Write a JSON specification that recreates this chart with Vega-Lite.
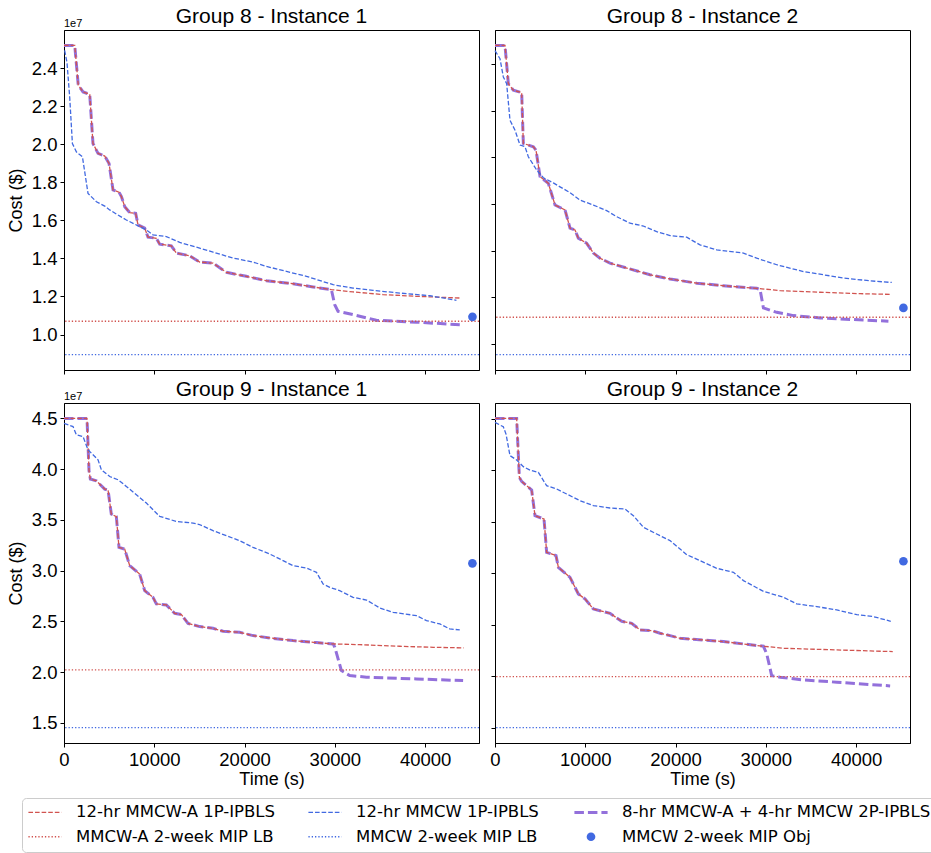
{
"$schema": "https://vega.github.io/schema/vega-lite/v6.json",
"padding": {"left": 6, "top": 5, "right": 0, "bottom": 0},
"background": "white",
"datasets": {"d": [
{"panel":"a","series":"A","time":0,"cost":2.519e7},
{"panel":"a","series":"A","time":1190,"cost":2.519e7},
{"panel":"a","series":"A","time":1580,"cost":2.31e7},
{"panel":"a","series":"A","time":2110,"cost":2.275e7},
{"panel":"a","series":"A","time":2850,"cost":2.262e7},
{"panel":"a","series":"A","time":3210,"cost":2.004e7},
{"panel":"a","series":"A","time":3770,"cost":1.952e7},
{"panel":"a","series":"A","time":4510,"cost":1.938e7},
{"panel":"a","series":"A","time":4990,"cost":1.899e7},
{"panel":"a","series":"A","time":5430,"cost":1.76e7},
{"panel":"a","series":"A","time":6100,"cost":1.748e7},
{"panel":"a","series":"A","time":6360,"cost":1.725e7},
{"panel":"a","series":"A","time":6730,"cost":1.672e7},
{"panel":"a","series":"A","time":7280,"cost":1.641e7},
{"panel":"a","series":"A","time":7940,"cost":1.637e7},
{"panel":"a","series":"A","time":8200,"cost":1.576e7},
{"panel":"a","series":"A","time":8940,"cost":1.559e7},
{"panel":"a","series":"A","time":9310,"cost":1.512e7},
{"panel":"a","series":"A","time":10230,"cost":1.506e7},
{"panel":"a","series":"A","time":10600,"cost":1.475e7},
{"panel":"a","series":"A","time":11890,"cost":1.466e7},
{"panel":"a","series":"A","time":12450,"cost":1.428e7},
{"panel":"a","series":"A","time":13920,"cost":1.414e7},
{"panel":"a","series":"A","time":15030,"cost":1.381e7},
{"panel":"a","series":"A","time":16510,"cost":1.375e7},
{"panel":"a","series":"A","time":17990,"cost":1.327e7},
{"panel":"a","series":"A","time":20200,"cost":1.306e7},
{"panel":"a","series":"A","time":22420,"cost":1.283e7},
{"panel":"a","series":"A","time":25370,"cost":1.267e7},
{"panel":"a","series":"A","time":27590,"cost":1.25e7},
{"panel":"a","series":"A","time":29620,"cost":1.236e7},
{"panel":"a","series":"A","time":32020,"cost":1.224e7},
{"panel":"a","series":"A","time":35350,"cost":1.21e7},
{"panel":"a","series":"A","time":39040,"cost":1.201e7},
{"panel":"a","series":"A","time":43840,"cost":1.192e7},
{"panel":"a","series":"C","time":0,"cost":2.519e7},
{"panel":"a","series":"C","time":1190,"cost":2.519e7},
{"panel":"a","series":"C","time":1580,"cost":2.31e7},
{"panel":"a","series":"C","time":2110,"cost":2.275e7},
{"panel":"a","series":"C","time":2850,"cost":2.262e7},
{"panel":"a","series":"C","time":3210,"cost":2.004e7},
{"panel":"a","series":"C","time":3770,"cost":1.952e7},
{"panel":"a","series":"C","time":4510,"cost":1.938e7},
{"panel":"a","series":"C","time":4990,"cost":1.899e7},
{"panel":"a","series":"C","time":5430,"cost":1.76e7},
{"panel":"a","series":"C","time":6100,"cost":1.748e7},
{"panel":"a","series":"C","time":6360,"cost":1.725e7},
{"panel":"a","series":"C","time":6730,"cost":1.672e7},
{"panel":"a","series":"C","time":7280,"cost":1.641e7},
{"panel":"a","series":"C","time":7940,"cost":1.637e7},
{"panel":"a","series":"C","time":8200,"cost":1.576e7},
{"panel":"a","series":"C","time":8940,"cost":1.559e7},
{"panel":"a","series":"C","time":9310,"cost":1.512e7},
{"panel":"a","series":"C","time":10230,"cost":1.506e7},
{"panel":"a","series":"C","time":10600,"cost":1.475e7},
{"panel":"a","series":"C","time":11890,"cost":1.466e7},
{"panel":"a","series":"C","time":12450,"cost":1.428e7},
{"panel":"a","series":"C","time":13920,"cost":1.414e7},
{"panel":"a","series":"C","time":15030,"cost":1.381e7},
{"panel":"a","series":"C","time":16510,"cost":1.375e7},
{"panel":"a","series":"C","time":17990,"cost":1.327e7},
{"panel":"a","series":"C","time":20200,"cost":1.306e7},
{"panel":"a","series":"C","time":22420,"cost":1.283e7},
{"panel":"a","series":"C","time":25370,"cost":1.267e7},
{"panel":"a","series":"C","time":27590,"cost":1.25e7},
{"panel":"a","series":"C","time":29620,"cost":1.236e7},
{"panel":"a","series":"C","time":29990,"cost":1.157e7},
{"panel":"a","series":"C","time":30360,"cost":1.122e7},
{"panel":"a","series":"C","time":32020,"cost":1.105e7},
{"panel":"a","series":"C","time":34600,"cost":1.075e7},
{"panel":"a","series":"C","time":39040,"cost":1.065e7},
{"panel":"a","series":"C","time":43840,"cost":1.052e7},
{"panel":"a","series":"B","time":70,"cost":2.493e7},
{"panel":"a","series":"B","time":330,"cost":2.43e7},
{"panel":"a","series":"B","time":630,"cost":2.248e7},
{"panel":"a","series":"B","time":930,"cost":2.004e7},
{"panel":"a","series":"B","time":1370,"cost":1.96e7},
{"panel":"a","series":"B","time":2040,"cost":1.934e7},
{"panel":"a","series":"B","time":2660,"cost":1.742e7},
{"panel":"a","series":"B","time":3590,"cost":1.698e7},
{"panel":"a","series":"B","time":4510,"cost":1.675e7},
{"panel":"a","series":"B","time":5060,"cost":1.655e7},
{"panel":"a","series":"B","time":5980,"cost":1.628e7},
{"panel":"a","series":"B","time":6910,"cost":1.602e7},
{"panel":"a","series":"B","time":8390,"cost":1.567e7},
{"panel":"a","series":"B","time":9120,"cost":1.55e7},
{"panel":"a","series":"B","time":9860,"cost":1.524e7},
{"panel":"a","series":"B","time":11340,"cost":1.515e7},
{"panel":"a","series":"B","time":12820,"cost":1.484e7},
{"panel":"a","series":"B","time":15030,"cost":1.454e7},
{"panel":"a","series":"B","time":16510,"cost":1.433e7},
{"panel":"a","series":"B","time":18730,"cost":1.402e7},
{"panel":"a","series":"B","time":20940,"cost":1.381e7},
{"panel":"a","series":"B","time":22420,"cost":1.358e7},
{"panel":"a","series":"B","time":24640,"cost":1.332e7},
{"panel":"a","series":"B","time":26850,"cost":1.306e7},
{"panel":"a","series":"B","time":29810,"cost":1.262e7},
{"panel":"a","series":"B","time":32020,"cost":1.244e7},
{"panel":"a","series":"B","time":34240,"cost":1.232e7},
{"panel":"a","series":"B","time":37190,"cost":1.218e7},
{"panel":"a","series":"B","time":40520,"cost":1.204e7},
{"panel":"a","series":"B","time":42360,"cost":1.189e7},
{"panel":"a","series":"B","time":43470,"cost":1.18e7},
{"panel":"a","series":"LA","cost":1.07e7},
{"panel":"a","series":"LB","cost":0.895e7},
{"panel":"a","series":"O","time":45245,"cost":1.093e7},
{"panel":"b","series":"A","time":0,"cost":2.279e7},
{"panel":"b","series":"A","time":1108,"cost":2.279e7},
{"panel":"b","series":"A","time":1477,"cost":2.115e7},
{"panel":"b","series":"A","time":2031,"cost":2.087e7},
{"panel":"b","series":"A","time":2955,"cost":2.077e7},
{"panel":"b","series":"A","time":3139,"cost":1.859e7},
{"panel":"b","series":"A","time":4247,"cost":1.845e7},
{"panel":"b","series":"A","time":4543,"cost":1.83e7},
{"panel":"b","series":"A","time":4986,"cost":1.717e7},
{"panel":"b","series":"A","time":5910,"cost":1.688e7},
{"panel":"b","series":"A","time":6648,"cost":1.595e7},
{"panel":"b","series":"A","time":7756,"cost":1.574e7},
{"panel":"b","series":"A","time":8310,"cost":1.496e7},
{"panel":"b","series":"A","time":8860,"cost":1.488e7},
{"panel":"b","series":"A","time":9230,"cost":1.453e7},
{"panel":"b","series":"A","time":10160,"cost":1.431e7},
{"panel":"b","series":"A","time":10900,"cost":1.389e7},
{"panel":"b","series":"A","time":11630,"cost":1.367e7},
{"panel":"b","series":"A","time":12740,"cost":1.346e7},
{"panel":"b","series":"A","time":14590,"cost":1.325e7},
{"panel":"b","series":"A","time":17170,"cost":1.296e7},
{"panel":"b","series":"A","time":19390,"cost":1.278e7},
{"panel":"b","series":"A","time":22350,"cost":1.26e7},
{"panel":"b","series":"A","time":25300,"cost":1.249e7},
{"panel":"b","series":"A","time":28990,"cost":1.238e7},
{"panel":"b","series":"A","time":31580,"cost":1.228e7},
{"panel":"b","series":"A","time":36010,"cost":1.221e7},
{"panel":"b","series":"A","time":40440,"cost":1.215e7},
{"panel":"b","series":"A","time":43840,"cost":1.212e7},
{"panel":"b","series":"C","time":0,"cost":2.279e7},
{"panel":"b","series":"C","time":1108,"cost":2.279e7},
{"panel":"b","series":"C","time":1477,"cost":2.115e7},
{"panel":"b","series":"C","time":2031,"cost":2.087e7},
{"panel":"b","series":"C","time":2955,"cost":2.077e7},
{"panel":"b","series":"C","time":3139,"cost":1.859e7},
{"panel":"b","series":"C","time":4247,"cost":1.845e7},
{"panel":"b","series":"C","time":4543,"cost":1.83e7},
{"panel":"b","series":"C","time":4986,"cost":1.717e7},
{"panel":"b","series":"C","time":5910,"cost":1.688e7},
{"panel":"b","series":"C","time":6648,"cost":1.595e7},
{"panel":"b","series":"C","time":7756,"cost":1.574e7},
{"panel":"b","series":"C","time":8310,"cost":1.496e7},
{"panel":"b","series":"C","time":8860,"cost":1.488e7},
{"panel":"b","series":"C","time":9230,"cost":1.453e7},
{"panel":"b","series":"C","time":10160,"cost":1.431e7},
{"panel":"b","series":"C","time":10900,"cost":1.389e7},
{"panel":"b","series":"C","time":11630,"cost":1.367e7},
{"panel":"b","series":"C","time":12740,"cost":1.346e7},
{"panel":"b","series":"C","time":14590,"cost":1.325e7},
{"panel":"b","series":"C","time":17170,"cost":1.296e7},
{"panel":"b","series":"C","time":19390,"cost":1.278e7},
{"panel":"b","series":"C","time":22350,"cost":1.26e7},
{"panel":"b","series":"C","time":25300,"cost":1.249e7},
{"panel":"b","series":"C","time":28990,"cost":1.238e7},
{"panel":"b","series":"C","time":29360,"cost":1.233e7},
{"panel":"b","series":"C","time":29730,"cost":1.154e7},
{"panel":"b","series":"C","time":31210,"cost":1.135e7},
{"panel":"b","series":"C","time":33060,"cost":1.121e7},
{"panel":"b","series":"C","time":36010,"cost":1.111e7},
{"panel":"b","series":"C","time":39700,"cost":1.104e7},
{"panel":"b","series":"C","time":43580,"cost":1.097e7},
{"panel":"b","series":"B","time":0,"cost":2.257e7},
{"panel":"b","series":"B","time":554,"cost":2.222e7},
{"panel":"b","series":"B","time":924,"cost":2.144e7},
{"panel":"b","series":"B","time":1293,"cost":2.115e7},
{"panel":"b","series":"B","time":1662,"cost":1.958e7},
{"panel":"b","series":"B","time":2216,"cost":1.916e7},
{"panel":"b","series":"B","time":2770,"cost":1.852e7},
{"panel":"b","series":"B","time":3324,"cost":1.845e7},
{"panel":"b","series":"B","time":3693,"cost":1.802e7},
{"panel":"b","series":"B","time":4617,"cost":1.745e7},
{"panel":"b","series":"B","time":5356,"cost":1.712e7},
{"panel":"b","series":"B","time":6464,"cost":1.69e7},
{"panel":"b","series":"B","time":7200,"cost":1.673e7},
{"panel":"b","series":"B","time":8310,"cost":1.648e7},
{"panel":"b","series":"B","time":9420,"cost":1.616e7},
{"panel":"b","series":"B","time":10900,"cost":1.595e7},
{"panel":"b","series":"B","time":12370,"cost":1.571e7},
{"panel":"b","series":"B","time":13480,"cost":1.545e7},
{"panel":"b","series":"B","time":14960,"cost":1.517e7},
{"panel":"b","series":"B","time":16440,"cost":1.505e7},
{"panel":"b","series":"B","time":17910,"cost":1.481e7},
{"panel":"b","series":"B","time":19390,"cost":1.464e7},
{"panel":"b","series":"B","time":21240,"cost":1.457e7},
{"panel":"b","series":"B","time":22710,"cost":1.424e7},
{"panel":"b","series":"B","time":24560,"cost":1.403e7},
{"panel":"b","series":"B","time":27520,"cost":1.389e7},
{"panel":"b","series":"B","time":28990,"cost":1.367e7},
{"panel":"b","series":"B","time":31210,"cost":1.339e7},
{"panel":"b","series":"B","time":34160,"cost":1.31e7},
{"panel":"b","series":"B","time":36380,"cost":1.296e7},
{"panel":"b","series":"B","time":38600,"cost":1.282e7},
{"panel":"b","series":"B","time":41550,"cost":1.27e7},
{"panel":"b","series":"B","time":43950,"cost":1.263e7},
{"panel":"b","series":"LA","cost":1.114e7},
{"panel":"b","series":"LB","cost":0.954e7},
{"panel":"b","series":"O","time":45240,"cost":1.154e7},
{"panel":"c","series":"A","time":0,"cost":4.5e7},
{"panel":"c","series":"A","time":2550,"cost":4.5e7},
{"panel":"c","series":"A","time":2770,"cost":3.985e7},
{"panel":"c","series":"A","time":2920,"cost":3.903e7},
{"panel":"c","series":"A","time":3580,"cost":3.886e7},
{"panel":"c","series":"A","time":4510,"cost":3.804e7},
{"panel":"c","series":"A","time":4880,"cost":3.794e7},
{"panel":"c","series":"A","time":5240,"cost":3.558e7},
{"panel":"c","series":"A","time":5800,"cost":3.532e7},
{"panel":"c","series":"A","time":6090,"cost":3.23e7},
{"panel":"c","series":"A","time":6720,"cost":3.213e7},
{"panel":"c","series":"A","time":7280,"cost":3.049e7},
{"panel":"c","series":"A","time":8380,"cost":2.967e7},
{"panel":"c","series":"A","time":8940,"cost":2.803e7},
{"panel":"c","series":"A","time":9860,"cost":2.737e7},
{"panel":"c","series":"A","time":10230,"cost":2.672e7},
{"panel":"c","series":"A","time":11340,"cost":2.662e7},
{"panel":"c","series":"A","time":12260,"cost":2.58e7},
{"panel":"c","series":"A","time":13000,"cost":2.567e7},
{"panel":"c","series":"A","time":13740,"cost":2.481e7},
{"panel":"c","series":"A","time":15030,"cost":2.449e7},
{"panel":"c","series":"A","time":16510,"cost":2.432e7},
{"panel":"c","series":"A","time":17620,"cost":2.403e7},
{"panel":"c","series":"A","time":19460,"cost":2.393e7},
{"panel":"c","series":"A","time":20940,"cost":2.36e7},
{"panel":"c","series":"A","time":22790,"cost":2.337e7},
{"panel":"c","series":"A","time":25370,"cost":2.311e7},
{"panel":"c","series":"A","time":27960,"cost":2.291e7},
{"panel":"c","series":"A","time":29810,"cost":2.278e7},
{"panel":"c","series":"A","time":32760,"cost":2.271e7},
{"panel":"c","series":"A","time":37190,"cost":2.255e7},
{"panel":"c","series":"A","time":40890,"cost":2.245e7},
{"panel":"c","series":"A","time":44280,"cost":2.239e7},
{"panel":"c","series":"C","time":0,"cost":4.5e7},
{"panel":"c","series":"C","time":2550,"cost":4.5e7},
{"panel":"c","series":"C","time":2770,"cost":3.985e7},
{"panel":"c","series":"C","time":2920,"cost":3.903e7},
{"panel":"c","series":"C","time":3580,"cost":3.886e7},
{"panel":"c","series":"C","time":4510,"cost":3.804e7},
{"panel":"c","series":"C","time":4880,"cost":3.794e7},
{"panel":"c","series":"C","time":5240,"cost":3.558e7},
{"panel":"c","series":"C","time":5800,"cost":3.532e7},
{"panel":"c","series":"C","time":6090,"cost":3.23e7},
{"panel":"c","series":"C","time":6720,"cost":3.213e7},
{"panel":"c","series":"C","time":7280,"cost":3.049e7},
{"panel":"c","series":"C","time":8380,"cost":2.967e7},
{"panel":"c","series":"C","time":8940,"cost":2.803e7},
{"panel":"c","series":"C","time":9860,"cost":2.737e7},
{"panel":"c","series":"C","time":10230,"cost":2.672e7},
{"panel":"c","series":"C","time":11340,"cost":2.662e7},
{"panel":"c","series":"C","time":12260,"cost":2.58e7},
{"panel":"c","series":"C","time":13000,"cost":2.567e7},
{"panel":"c","series":"C","time":13740,"cost":2.481e7},
{"panel":"c","series":"C","time":15030,"cost":2.449e7},
{"panel":"c","series":"C","time":16510,"cost":2.432e7},
{"panel":"c","series":"C","time":17620,"cost":2.403e7},
{"panel":"c","series":"C","time":19460,"cost":2.393e7},
{"panel":"c","series":"C","time":20940,"cost":2.36e7},
{"panel":"c","series":"C","time":22790,"cost":2.337e7},
{"panel":"c","series":"C","time":25370,"cost":2.311e7},
{"panel":"c","series":"C","time":27960,"cost":2.291e7},
{"panel":"c","series":"C","time":29810,"cost":2.278e7},
{"panel":"c","series":"C","time":30000,"cost":2.245e7},
{"panel":"c","series":"C","time":30730,"cost":2.015e7},
{"panel":"c","series":"C","time":31650,"cost":1.966e7},
{"panel":"c","series":"C","time":33500,"cost":1.95e7},
{"panel":"c","series":"C","time":39040,"cost":1.933e7},
{"panel":"c","series":"C","time":44210,"cost":1.917e7},
{"panel":"c","series":"B","time":0,"cost":4.451e7},
{"panel":"c","series":"B","time":1000,"cost":4.42e7},
{"panel":"c","series":"B","time":1370,"cost":4.339e7},
{"panel":"c","series":"B","time":2106,"cost":4.322e7},
{"panel":"c","series":"B","time":2660,"cost":4.191e7},
{"panel":"c","series":"B","time":3216,"cost":4.142e7},
{"panel":"c","series":"B","time":3770,"cost":4.092e7},
{"panel":"c","series":"B","time":4140,"cost":3.994e7},
{"panel":"c","series":"B","time":5063,"cost":3.928e7},
{"panel":"c","series":"B","time":5987,"cost":3.896e7},
{"panel":"c","series":"B","time":6910,"cost":3.83e7},
{"panel":"c","series":"B","time":8018,"cost":3.748e7},
{"panel":"c","series":"B","time":9126,"cost":3.666e7},
{"panel":"c","series":"B","time":9865,"cost":3.6e7},
{"panel":"c","series":"B","time":10604,"cost":3.535e7},
{"panel":"c","series":"B","time":12450,"cost":3.485e7},
{"panel":"c","series":"B","time":14297,"cost":3.469e7},
{"panel":"c","series":"B","time":15000,"cost":3.455e7},
{"panel":"c","series":"B","time":16510,"cost":3.394e7},
{"panel":"c","series":"B","time":17990,"cost":3.345e7},
{"panel":"c","series":"B","time":19460,"cost":3.295e7},
{"panel":"c","series":"B","time":20940,"cost":3.23e7},
{"panel":"c","series":"B","time":22790,"cost":3.164e7},
{"panel":"c","series":"B","time":24270,"cost":3.099e7},
{"panel":"c","series":"B","time":25370,"cost":3.049e7},
{"panel":"c","series":"B","time":26850,"cost":3.026e7},
{"panel":"c","series":"B","time":27960,"cost":2.984e7},
{"panel":"c","series":"B","time":28700,"cost":2.869e7},
{"panel":"c","series":"B","time":29440,"cost":2.836e7},
{"panel":"c","series":"B","time":30540,"cost":2.803e7},
{"panel":"c","series":"B","time":32020,"cost":2.737e7},
{"panel":"c","series":"B","time":33500,"cost":2.711e7},
{"panel":"c","series":"B","time":34980,"cost":2.632e7},
{"panel":"c","series":"B","time":36450,"cost":2.59e7},
{"panel":"c","series":"B","time":39040,"cost":2.557e7},
{"panel":"c","series":"B","time":40150,"cost":2.508e7},
{"panel":"c","series":"B","time":41630,"cost":2.475e7},
{"panel":"c","series":"B","time":42730,"cost":2.426e7},
{"panel":"c","series":"B","time":43840,"cost":2.416e7},
{"panel":"c","series":"LA","cost":2.022e7},
{"panel":"c","series":"LB","cost":1.454e7},
{"panel":"c","series":"O","time":45240,"cost":3.072e7},
{"panel":"d","series":"A","time":0,"cost":4.506e7},
{"panel":"d","series":"A","time":2400,"cost":4.506e7},
{"panel":"d","series":"A","time":2700,"cost":3.933e7},
{"panel":"d","series":"A","time":2950,"cost":3.894e7},
{"panel":"d","series":"A","time":4060,"cost":3.81e7},
{"panel":"d","series":"A","time":4430,"cost":3.56e7},
{"panel":"d","series":"A","time":5430,"cost":3.528e7},
{"panel":"d","series":"A","time":5720,"cost":3.204e7},
{"panel":"d","series":"A","time":6760,"cost":3.172e7},
{"panel":"d","series":"A","time":7020,"cost":3.058e7},
{"panel":"d","series":"A","time":8310,"cost":2.961e7},
{"panel":"d","series":"A","time":9230,"cost":2.799e7},
{"panel":"d","series":"A","time":9970,"cost":2.751e7},
{"panel":"d","series":"A","time":10900,"cost":2.653e7},
{"panel":"d","series":"A","time":12740,"cost":2.611e7},
{"panel":"d","series":"A","time":14040,"cost":2.533e7},
{"panel":"d","series":"A","time":15140,"cost":2.514e7},
{"panel":"d","series":"A","time":16070,"cost":2.449e7},
{"panel":"d","series":"A","time":17360,"cost":2.443e7},
{"panel":"d","series":"A","time":18280,"cost":2.417e7},
{"panel":"d","series":"A","time":19390,"cost":2.394e7},
{"panel":"d","series":"A","time":20500,"cost":2.368e7},
{"panel":"d","series":"A","time":23080,"cost":2.352e7},
{"panel":"d","series":"A","time":25300,"cost":2.336e7},
{"panel":"d","series":"A","time":27520,"cost":2.313e7},
{"panel":"d","series":"A","time":29730,"cost":2.291e7},
{"panel":"d","series":"A","time":31950,"cost":2.271e7},
{"panel":"d","series":"A","time":34160,"cost":2.265e7},
{"panel":"d","series":"A","time":37860,"cost":2.255e7},
{"panel":"d","series":"A","time":41550,"cost":2.245e7},
{"panel":"d","series":"A","time":44060,"cost":2.239e7},
{"panel":"d","series":"C","time":0,"cost":4.506e7},
{"panel":"d","series":"C","time":2400,"cost":4.506e7},
{"panel":"d","series":"C","time":2700,"cost":3.933e7},
{"panel":"d","series":"C","time":2950,"cost":3.894e7},
{"panel":"d","series":"C","time":4060,"cost":3.81e7},
{"panel":"d","series":"C","time":4430,"cost":3.56e7},
{"panel":"d","series":"C","time":5430,"cost":3.528e7},
{"panel":"d","series":"C","time":5720,"cost":3.204e7},
{"panel":"d","series":"C","time":6760,"cost":3.172e7},
{"panel":"d","series":"C","time":7020,"cost":3.058e7},
{"panel":"d","series":"C","time":8310,"cost":2.961e7},
{"panel":"d","series":"C","time":9230,"cost":2.799e7},
{"panel":"d","series":"C","time":9970,"cost":2.751e7},
{"panel":"d","series":"C","time":10900,"cost":2.653e7},
{"panel":"d","series":"C","time":12740,"cost":2.611e7},
{"panel":"d","series":"C","time":14040,"cost":2.533e7},
{"panel":"d","series":"C","time":15140,"cost":2.514e7},
{"panel":"d","series":"C","time":16070,"cost":2.449e7},
{"panel":"d","series":"C","time":17360,"cost":2.443e7},
{"panel":"d","series":"C","time":18280,"cost":2.417e7},
{"panel":"d","series":"C","time":19390,"cost":2.394e7},
{"panel":"d","series":"C","time":20500,"cost":2.368e7},
{"panel":"d","series":"C","time":23080,"cost":2.352e7},
{"panel":"d","series":"C","time":25300,"cost":2.336e7},
{"panel":"d","series":"C","time":27520,"cost":2.313e7},
{"panel":"d","series":"C","time":29730,"cost":2.291e7},
{"panel":"d","series":"C","time":30100,"cost":2.216e7},
{"panel":"d","series":"C","time":30650,"cost":2.005e7},
{"panel":"d","series":"C","time":31580,"cost":1.989e7},
{"panel":"d","series":"C","time":34160,"cost":1.963e7},
{"panel":"d","series":"C","time":37860,"cost":1.941e7},
{"panel":"d","series":"C","time":43770,"cost":1.905e7},
{"panel":"d","series":"B","time":0,"cost":4.468e7},
{"panel":"d","series":"B","time":920,"cost":4.425e7},
{"panel":"d","series":"B","time":1220,"cost":4.354e7},
{"panel":"d","series":"B","time":1660,"cost":4.144e7},
{"panel":"d","series":"B","time":2400,"cost":4.102e7},
{"panel":"d","series":"B","time":3140,"cost":4.037e7},
{"panel":"d","series":"B","time":3880,"cost":4.004e7},
{"panel":"d","series":"B","time":4800,"cost":3.982e7},
{"panel":"d","series":"B","time":5720,"cost":3.852e7},
{"panel":"d","series":"B","time":6830,"cost":3.82e7},
{"panel":"d","series":"B","time":7940,"cost":3.771e7},
{"panel":"d","series":"B","time":9420,"cost":3.706e7},
{"panel":"d","series":"B","time":10900,"cost":3.658e7},
{"panel":"d","series":"B","time":12740,"cost":3.635e7},
{"panel":"d","series":"B","time":14400,"cost":3.625e7},
{"panel":"d","series":"B","time":15330,"cost":3.56e7},
{"panel":"d","series":"B","time":16440,"cost":3.447e7},
{"panel":"d","series":"B","time":17910,"cost":3.382e7},
{"panel":"d","series":"B","time":19390,"cost":3.318e7},
{"panel":"d","series":"B","time":20500,"cost":3.237e7},
{"panel":"d","series":"B","time":21240,"cost":3.181e7},
{"panel":"d","series":"B","time":22710,"cost":3.123e7},
{"panel":"d","series":"B","time":24560,"cost":3.049e7},
{"panel":"d","series":"B","time":26410,"cost":3.01e7},
{"panel":"d","series":"B","time":27520,"cost":2.929e7},
{"panel":"d","series":"B","time":29730,"cost":2.825e7},
{"panel":"d","series":"B","time":31950,"cost":2.767e7},
{"panel":"d","series":"B","time":33430,"cost":2.702e7},
{"panel":"d","series":"B","time":35640,"cost":2.676e7},
{"panel":"d","series":"B","time":37860,"cost":2.644e7},
{"panel":"d","series":"B","time":40080,"cost":2.598e7},
{"panel":"d","series":"B","time":41920,"cost":2.579e7},
{"panel":"d","series":"B","time":43840,"cost":2.533e7},
{"panel":"d","series":"LA","cost":1.996e7},
{"panel":"d","series":"LB","cost":1.5e7},
{"panel":"d","series":"O","time":45240,"cost":3.117e7}
]},
"data": {"name": "d"},
"config": {
  "font": "Liberation Sans",
  "view": {"stroke": "black", "strokeWidth": 1},
  "axis": {"domainColor": "black", "tickColor": "black", "tickSize": 4, "labelFont": "Liberation Sans", "labelFontSize": 18.5, "labelColor": "black", "titleFont": "Liberation Sans", "titleFontSize": 18, "titleFontWeight": "normal", "titleColor": "black", "grid": false, "labelPadding": 3, "labelFlush": false},
  "title": {"font": "Liberation Sans", "fontSize": 21, "fontWeight": "normal", "color": "black", "offset": 3, "frame": "group"}
},
"spacing": 3,
"resolve": {"scale": {"color": "shared"}, "legend": {"color": "shared"}},
"vconcat": [
{"spacing": 7, "resolve": {"scale": {"color": "shared"}, "legend": {"color": "shared"}}, "hconcat": [
 {"width": 415, "height": 340, "title": {"text": "Group 8 - Instance 1", "offset": -9},
  "transform": [{"filter": "datum.panel === 'a'"}],
  "encoding": {
   "y": {"field": "cost", "type": "quantitative", "scale": {"domain": [8138000, 26002000], "nice": false, "zero": false}, "axis": {"values": [1e7, 1.2e7, 1.4e7, 1.6e7, 1.8e7, 2e7, 2.2e7, 2.4e7], "labelExpr": "format(datum.value/1e7,'.1f')", "title": "Cost ($)", "titlePadding": 6}},
   "color": {"field": "series", "type": "nominal", "scale": {"domain": ["A", "B", "C", "LA", "LB", "O"], "range": ["#d1534f", "#4169e1", "#9370db", "#d1534f", "#4169e1", "#4169e1"]},
    "legend": {"orient": "none", "legendX": -42, "legendY": 768, "title": null, "columns": 3, "direction": "horizontal",
     "labelExpr": "datum.label === 'A' ? '12-hr MMCW-A 1P-IPBLS' : datum.label === 'B' ? '12-hr MMCW 1P-IPBLS' : datum.label === 'C' ? '8-hr MMCW-A + 4-hr MMCW 2P-IPBLS' : datum.label === 'LA' ? 'MMCW-A 2-week MIP LB' : datum.label === 'LB' ? 'MMCW 2-week MIP LB' : 'MMCW 2-week MIP Obj'",
     "labelFont": "DejaVu Sans", "labelFontSize": 16.5, "labelColor": "black", "labelLimit": 0,
     "symbolType": "stroke", "symbolSize": 1100, "symbolStrokeWidth": 1.3,
     "columnPadding": 29, "rowPadding": 7.5, "labelOffset": 14, "padding": 6,
     "strokeColor": "#cccccc", "cornerRadius": 4, "fillColor": "white",
     "encode": {
      "labels": {"update": {"x": {"value": 48}}},
      "symbols": {"update": {
       "x": {"value": 17},
       "shape": {"signal": "datum.value === 'O' ? 'circle' : 'stroke'"},
       "size": {"signal": "datum.value === 'O' ? 75 : 1100"},
       "strokeWidth": {"signal": "datum.value === 'C' ? 3 : (datum.value === 'O' ? 0 : 1.3)"},
       "strokeDash": {"signal": "datum.value === 'C' ? [9.5,4] : ((datum.value === 'A' || datum.value === 'B') ? [4.6,2] : (datum.value === 'O' ? [] : [1.3,2]))"},
       "fill": {"signal": "datum.value === 'O' ? '#4169e1' : 'transparent'"},
       "stroke": {"signal": "(datum.value === 'A' || datum.value === 'LA') ? '#d1534f' : (datum.value === 'C' ? '#9370db' : '#4169e1')"},
       "opacity": {"value": 1}, "fillOpacity": {"value": 1}, "strokeOpacity": {"value": 1}
     }}}}}
  },
  "layer": [
   {"transform": [{"filter": "datum.series === 'C'"}], "mark": {"type": "line", "strokeWidth": 3, "strokeDash": [9.5, 4]}, "encoding": {"x": {"field": "time", "type": "quantitative", "scale": {"domain": [0, 45970], "nice": false, "zero": false}, "axis": {"values": [0, 10000, 20000, 30000, 40000], "labels": false, "title": null}}}},
   {"transform": [{"filter": "datum.series === 'A'"}], "mark": {"type": "line", "strokeWidth": 1.3, "strokeDash": [4.6, 2]}, "encoding": {"x": {"field": "time", "type": "quantitative"}}},
   {"transform": [{"filter": "datum.series === 'B'"}], "mark": {"type": "line", "strokeWidth": 1.3, "strokeDash": [4.6, 2]}, "encoding": {"x": {"field": "time", "type": "quantitative"}}},
   {"transform": [{"filter": "datum.series === 'LA' || datum.series === 'LB'"}], "mark": {"type": "rule", "strokeWidth": 1.3, "strokeDash": [1.3, 2]}, "encoding": {}},
   {"transform": [{"filter": "datum.series === 'O'"}], "mark": {"type": "point", "filled": true, "size": 75, "opacity": 1}, "encoding": {"x": {"field": "time", "type": "quantitative"}}},
   {"transform": [{"filter": "datum.series === 'O'"}], "mark": {"type": "text", "text": "1e7", "align": "left", "baseline": "bottom", "dy": -1, "fontSize": 11}, "encoding": {"x": {"datum": 0}, "y": {"datum": 26002000}, "color": {"value": "black"}}}
  ]},
 {"width": 415, "height": 340, "title": "Group 8 - Instance 2",
  "transform": [{"filter": "datum.panel === 'b'"}],
  "encoding": {
   "y": {"field": "cost", "type": "quantitative", "scale": {"domain": [8878000, 23453000], "nice": false, "zero": false}, "axis": {"values": [1e7, 1.2e7, 1.4e7, 1.6e7, 1.8e7, 2e7, 2.2e7], "labels": false, "title": null}},
   "color": {"field": "series", "type": "nominal", "scale": {"domain": ["A", "B", "C", "LA", "LB", "O"], "range": ["#d1534f", "#4169e1", "#9370db", "#d1534f", "#4169e1", "#4169e1"]}}
  },
  "layer": [
   {"transform": [{"filter": "datum.series === 'C'"}], "mark": {"type": "line", "strokeWidth": 3, "strokeDash": [9.5, 4]}, "encoding": {"x": {"field": "time", "type": "quantitative", "scale": {"domain": [0, 45970], "nice": false, "zero": false}, "axis": {"values": [0, 10000, 20000, 30000, 40000], "labels": false, "title": null}}}},
   {"transform": [{"filter": "datum.series === 'A'"}], "mark": {"type": "line", "strokeWidth": 1.3, "strokeDash": [4.6, 2]}, "encoding": {"x": {"field": "time", "type": "quantitative"}}},
   {"transform": [{"filter": "datum.series === 'B'"}], "mark": {"type": "line", "strokeWidth": 1.3, "strokeDash": [4.6, 2]}, "encoding": {"x": {"field": "time", "type": "quantitative"}}},
   {"transform": [{"filter": "datum.series === 'LA' || datum.series === 'LB'"}], "mark": {"type": "rule", "strokeWidth": 1.3, "strokeDash": [1.3, 2]}, "encoding": {}},
   {"transform": [{"filter": "datum.series === 'O'"}], "mark": {"type": "point", "filled": true, "size": 75, "opacity": 1}, "encoding": {"x": {"field": "time", "type": "quantitative"}}}
  ]}
]},
{"spacing": 7, "resolve": {"scale": {"color": "shared"}, "legend": {"color": "shared"}}, "hconcat": [
 {"width": 415, "height": 340, "title": {"text": "Group 9 - Instance 1", "offset": -9},
  "transform": [{"filter": "datum.panel === 'c'"}],
  "encoding": {
   "y": {"field": "cost", "type": "quantitative", "scale": {"domain": [13017000, 46523000], "nice": false, "zero": false}, "axis": {"values": [1.5e7, 2e7, 2.5e7, 3e7, 3.5e7, 4e7, 4.5e7], "labelExpr": "format(datum.value/1e7,'.1f')", "title": "Cost ($)", "titlePadding": 6}},
   "color": {"field": "series", "type": "nominal", "scale": {"domain": ["A", "B", "C", "LA", "LB", "O"], "range": ["#d1534f", "#4169e1", "#9370db", "#d1534f", "#4169e1", "#4169e1"]}}
  },
  "layer": [
   {"transform": [{"filter": "datum.series === 'C'"}], "mark": {"type": "line", "strokeWidth": 3, "strokeDash": [9.5, 4]}, "encoding": {"x": {"field": "time", "type": "quantitative", "scale": {"domain": [0, 45970], "nice": false, "zero": false}, "axis": {"values": [0, 10000, 20000, 30000, 40000], "format": "d", "title": "Time (s)", "titlePadding": 2}}}},
   {"transform": [{"filter": "datum.series === 'A'"}], "mark": {"type": "line", "strokeWidth": 1.3, "strokeDash": [4.6, 2]}, "encoding": {"x": {"field": "time", "type": "quantitative"}}},
   {"transform": [{"filter": "datum.series === 'B'"}], "mark": {"type": "line", "strokeWidth": 1.3, "strokeDash": [4.6, 2]}, "encoding": {"x": {"field": "time", "type": "quantitative"}}},
   {"transform": [{"filter": "datum.series === 'LA' || datum.series === 'LB'"}], "mark": {"type": "rule", "strokeWidth": 1.3, "strokeDash": [1.3, 2]}, "encoding": {}},
   {"transform": [{"filter": "datum.series === 'O'"}], "mark": {"type": "point", "filled": true, "size": 75, "opacity": 1}, "encoding": {"x": {"field": "time", "type": "quantitative"}}},
   {"transform": [{"filter": "datum.series === 'O'"}], "mark": {"type": "text", "text": "1e7", "align": "left", "baseline": "bottom", "dy": -1, "fontSize": 11}, "encoding": {"x": {"datum": 0}, "y": {"datum": 46523000}, "color": {"value": "black"}}}
  ]},
 {"width": 415, "height": 340, "title": "Group 9 - Instance 2",
  "transform": [{"filter": "datum.panel === 'd'"}],
  "encoding": {
   "y": {"field": "cost", "type": "quantitative", "scale": {"domain": [13497000, 46563000], "nice": false, "zero": false}, "axis": {"values": [1.5e7, 2e7, 2.5e7, 3e7, 3.5e7, 4e7, 4.5e7], "labels": false, "title": null}},
   "color": {"field": "series", "type": "nominal", "scale": {"domain": ["A", "B", "C", "LA", "LB", "O"], "range": ["#d1534f", "#4169e1", "#9370db", "#d1534f", "#4169e1", "#4169e1"]}}
  },
  "layer": [
   {"transform": [{"filter": "datum.series === 'C'"}], "mark": {"type": "line", "strokeWidth": 3, "strokeDash": [9.5, 4]}, "encoding": {"x": {"field": "time", "type": "quantitative", "scale": {"domain": [0, 45970], "nice": false, "zero": false}, "axis": {"values": [0, 10000, 20000, 30000, 40000], "format": "d", "title": "Time (s)", "titlePadding": 2}}}},
   {"transform": [{"filter": "datum.series === 'A'"}], "mark": {"type": "line", "strokeWidth": 1.3, "strokeDash": [4.6, 2]}, "encoding": {"x": {"field": "time", "type": "quantitative"}}},
   {"transform": [{"filter": "datum.series === 'B'"}], "mark": {"type": "line", "strokeWidth": 1.3, "strokeDash": [4.6, 2]}, "encoding": {"x": {"field": "time", "type": "quantitative"}}},
   {"transform": [{"filter": "datum.series === 'LA' || datum.series === 'LB'"}], "mark": {"type": "rule", "strokeWidth": 1.3, "strokeDash": [1.3, 2]}, "encoding": {}},
   {"transform": [{"filter": "datum.series === 'O'"}], "mark": {"type": "point", "filled": true, "size": 75, "opacity": 1}, "encoding": {"x": {"field": "time", "type": "quantitative"}}}
  ]}
]}
]
}
